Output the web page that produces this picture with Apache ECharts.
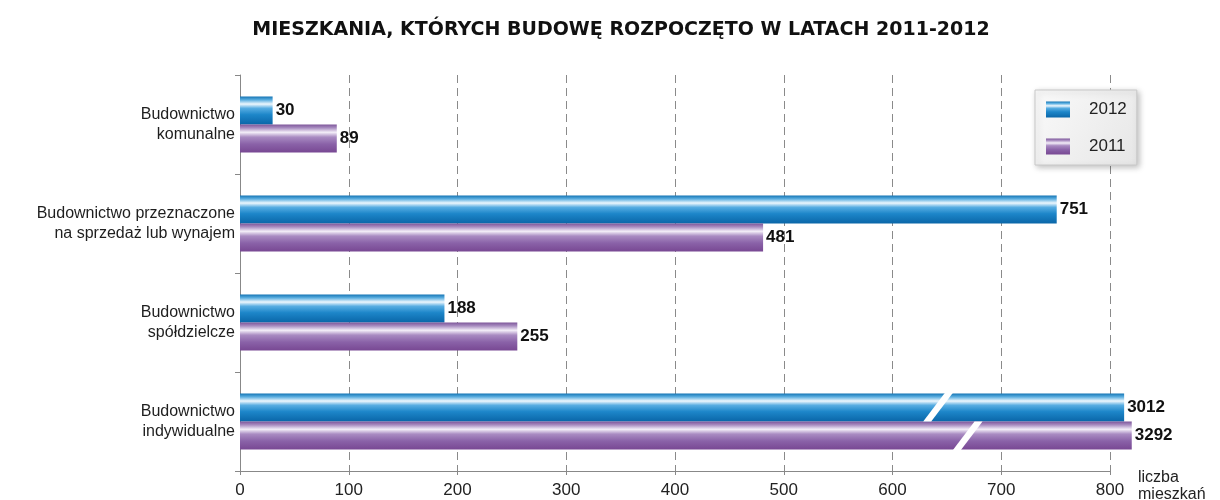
<!DOCTYPE html>
<html>
<head>
<meta charset="utf-8">
<script src="https://cdn.jsdelivr.net/npm/echarts@6/dist/echarts.min.js"></script>
<style>
  html, body { margin: 0; padding: 0; background: #fff; }
  #chart { width: 1220px; height: 500px; }
</style>
</head>
<body>
<div id="chart"></div>
<script>
  // kategorie (od góry)
  const categories = [
    'Budownictwo\nkomunalne',
    'Budownictwo przeznaczone\nna sprzedaż lub wynajem',
    'Budownictwo\nspółdzielcze',
    'Budownictwo\nindywidualne'
  ];
  const values2012 = [30, 751, 188, 3012];
  const values2011 = [89, 481, 255, 3292];
  const xTicks = [0, 100, 200, 300, 400, 500, 600, 700, 800];

  // słupki przerwane (poza skalą): długość rysowana i miejsce przerwy
  const axisMax = 800;
  const brokenLen2012 = 813;
  const brokenLen2011 = 820;
  const breakAt2012 = 642;
  const breakAt2011 = 669;

  const BAR = 28;
  const FONT = 'Liberation Sans, Arial, sans-serif';

  const shown = (vals, broken) => vals.map(v => (v > axisMax ? broken : v));

  const blueGrad = new echarts.graphic.LinearGradient(0, 0, 0, 1, [
    { offset: 0, color: '#1474b4' },
    { offset: 0.12, color: '#5aaee0' },
    { offset: 0.27, color: '#eef7fd' },
    { offset: 0.42, color: '#58ade2' },
    { offset: 0.65, color: '#1d86c9' },
    { offset: 1, color: '#0a66a8' }
  ]);
  const purpleGrad = new echarts.graphic.LinearGradient(0, 0, 0, 1, [
    { offset: 0, color: '#7d569a' },
    { offset: 0.12, color: '#a88cc0' },
    { offset: 0.28, color: '#f3eef8' },
    { offset: 0.45, color: '#a98bc2' },
    { offset: 0.7, color: '#8a62a8' },
    { offset: 1, color: '#784893' }
  ]);

  const labelStyle = {
    show: true,
    position: 'right',
    distance: 3,
    fontFamily: FONT,
    fontWeight: 'bold',
    fontSize: 17,
    color: '#111'
  };

  const chart = echarts.init(document.getElementById('chart'));
  chart.setOption({
    animation: false,
    title: {
      text: 'MIESZKANIA, KTÓRYCH BUDOWĘ ROZPOCZĘTO W LATACH 2011-2012',
      left: 616,
      textAlign: 'center',
      top: 16,
      textStyle: {
        fontFamily: 'DejaVu Sans, sans-serif',
        fontWeight: 'bold',
        fontSize: 19,
        color: '#111'
      }
    },
    legend: {
      orient: 'vertical',
      left: 1035,
      top: 90,
      padding: [11, 10, 10, 11],
      itemWidth: 24,
      itemHeight: 16,
      itemGap: 20,
      icon: 'rect',
      backgroundColor: new echarts.graphic.LinearGradient(0, 0, 1, 1, [
        { offset: 0, color: '#fafafa' },
        { offset: 1, color: '#e6e6e6' }
      ]),
      borderColor: '#c8c8c8',
      borderWidth: 1,
      shadowColor: 'rgba(0,0,0,0.25)',
      shadowBlur: 6,
      shadowOffsetX: 2,
      shadowOffsetY: 2,
      data: ['2012', '2011'],
      textStyle: {
        fontFamily: FONT,
        fontSize: 17,
        color: '#222',
        padding: [0, 0, 0, 14]
      }
    },
    grid: { left: 240, right: 110, top: 75, bottom: 29, outerBoundsMode: 'none' },
    xAxis: {
      type: 'value',
      min: xTicks[0],
      max: xTicks[xTicks.length - 1],
      interval: 100,
      name: 'liczba\nmieszkań',
      nameLocation: 'end',
      nameGap: 28,
      nameTextStyle: {
        fontFamily: FONT,
        fontSize: 16,
        color: '#222',
        align: 'left',
        verticalAlign: 'top',
        lineHeight: 17,
        padding: [-2, 0, 0, 0]
      },
      axisLine: { show: true, lineStyle: { color: '#888', width: 1 } },
      axisTick: { show: true, length: 4, lineStyle: { color: '#888' } },
      axisLabel: {
        margin: 11,
        fontFamily: FONT,
        fontSize: 17,
        color: '#222'
      },
      splitLine: {
        show: true,
        lineStyle: { color: '#8a8a8a', type: [8, 5], width: 1 }
      }
    },
    yAxis: {
      type: 'category',
      inverse: true,
      data: categories,
      axisLine: { show: true, lineStyle: { color: '#888', width: 1 } },
      axisTick: { show: true, length: 5, lineStyle: { color: '#888' } },
      axisLabel: {
        margin: 5,
        align: 'right',
        fontFamily: FONT,
        fontSize: 16,
        lineHeight: 20,
        color: '#1e1e1e'
      }
    },
    series: [
      {
        name: '2012',
        type: 'bar',
        barWidth: BAR,
        barGap: '0%',
        clip: false,
        itemStyle: { color: blueGrad },
        label: Object.assign({}, labelStyle, {
          formatter: p => values2012[p.dataIndex]
        }),
        data: shown(values2012, brokenLen2012)
      },
      {
        name: '2011',
        type: 'bar',
        barWidth: BAR,
        barGap: '0%',
        clip: false,
        itemStyle: { color: purpleGrad },
        label: Object.assign({}, labelStyle, {
          formatter: p => values2011[p.dataIndex]
        }),
        data: shown(values2011, brokenLen2011)
      },
      {
        // białe ukośne przerwy w słupkach poza skalą
        type: 'custom',
        silent: true,
        z: 5,
        clip: false,
        data: [
          [breakAt2012, 3, -1],
          [breakAt2011, 3, 1]
        ],
        renderItem: function (params, api) {
          const c = api.coord([api.value(0), api.value(1)]);
          const side = api.value(2);
          const y0 = side < 0 ? c[1] - BAR - 1 : c[1];
          const y1 = side < 0 ? c[1] : c[1] + BAR + 1;
          const half = 11, w = 4;
          return {
            type: 'polygon',
            shape: {
              points: [
                [c[0] - half - w, y1],
                [c[0] - half + w, y1],
                [c[0] + half + w, y0],
                [c[0] + half - w, y0]
              ]
            },
            style: { fill: '#ffffff' }
          };
        }
      }
    ]
  });
</script>
</body>
</html>
